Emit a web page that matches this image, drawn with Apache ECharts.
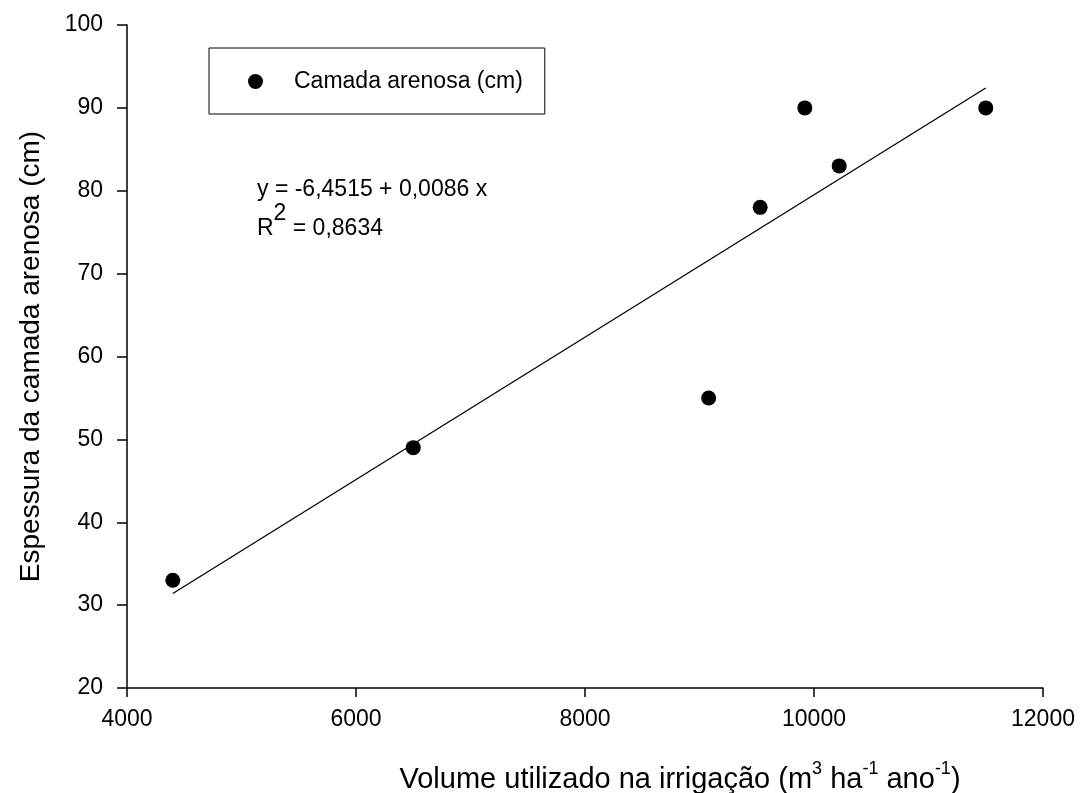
<!DOCTYPE html>
<html>
<head>
<meta charset="utf-8">
<script src="https://cdn.jsdelivr.net/npm/echarts@6/dist/echarts.min.js"></script>
<style>html,body{margin:0;padding:0;background:#fff;}#c{width:1083px;height:793px;}</style>
</head>
<body>
<div id="c"></div>
<script>
var volume = [4400, 6500, 9080, 9530, 9920, 10220, 11500];
var thickness = [33, 49, 55, 78, 90, 83, 90];
var fitLineX = [4400, 11500];
var fitLineY = [31.4, 92.4];
var xTicks = [4000, 12000, 2000];
var yTicks = [20, 100, 10];
var seriesName = 'Camada arenosa (cm)';

var FONT = 'Liberation Sans, Arial, sans-serif';
var chart = echarts.init(document.getElementById('c'), null, {renderer: 'canvas'});
chart.setOption({
  backgroundColor: '#fff',
  animation: false,
  textStyle: {fontFamily: FONT, color: '#000'},
  grid: {left: 127, right: 40, top: 25, bottom: 105, containLabel: false, outerBoundsMode: 'none'},
  legend: {
    data: [seriesName],
    left: 209, top: 48,
    orient: 'vertical',
    borderColor: '#000', borderWidth: 1,
    padding: [22, 22, 21, 39],
    itemWidth: 15, itemHeight: 15,
    icon: 'circle',
    textStyle: {fontFamily: FONT, fontSize: 23, color: '#000', padding: [0, 0, 0, 26]}
  },
  xAxis: {
    type: 'value',
    min: xTicks[0], max: xTicks[1], interval: xTicks[2],
    splitLine: {show: false},
    axisLine: {lineStyle: {color: '#000', width: 1.5}},
    axisTick: {inside: false, length: 9, lineStyle: {color: '#000', width: 1.5}},
    axisLabel: {fontFamily: FONT, fontSize: 23, color: '#000', margin: 20,
      formatter: function (v) { return String(v); }},
    name: '{n|Volume utilizado na irrigação (m}{s|3}{n| ha}{s|-1}{n| ano}{s|-1}{n|)}',
    nameLocation: 'middle',
    nameGap: 72,
    nameTextStyle: {
      padding: [0, 0, 0, 190],
      rich: {
        n: {fontFamily: FONT, fontSize: 29, color: '#000', verticalAlign: 'bottom', lineHeight: 34},
        s: {fontFamily: FONT, fontSize: 18, color: '#000', verticalAlign: 'top', lineHeight: 34, padding: [0, 0, 14, 0]}
      }
    }
  },
  yAxis: {
    type: 'value',
    min: yTicks[0], max: yTicks[1], interval: yTicks[2],
    splitLine: {show: false},
    axisLine: {show: true, lineStyle: {color: '#000', width: 1.5}},
    axisTick: {show: true, inside: false, length: 10, lineStyle: {color: '#000', width: 1.5}},
    axisLabel: {fontFamily: FONT, fontSize: 23, color: '#000', margin: 24},
    name: 'Espessura da camada arenosa (cm)',
    nameLocation: 'middle',
    nameGap: 82,
    nameTextStyle: {fontFamily: FONT, fontSize: 28, color: '#000', padding: [0, 0, 0, 0]}
  },
  graphic: [
    {
      type: 'text', left: 257, top: 178,
      style: {
        text: 'y = -6,4515 + 0,0086 x',
        font: '23px ' + FONT, fill: '#000'
      }
    },
    {
      type: 'text', left: 257, top: 202,
      style: {
        text: '{n|R}{s|2}{n| = 0,8634}',
        fill: '#000',
        rich: {
          n: {fontFamily: FONT, fontSize: 23, fill: '#000', color: '#000', verticalAlign: 'bottom', lineHeight: 38},
          s: {fontFamily: FONT, fontSize: 23, fill: '#000', color: '#000', verticalAlign: 'top', lineHeight: 38}
        }
      }
    }
  ],
  series: [
    {
      name: seriesName,
      type: 'scatter',
      data: volume.map(function (v, i) { return [v, thickness[i]]; }),
      symbol: 'circle',
      symbolSize: 15,
      itemStyle: {color: '#000', opacity: 1},
      z: 3
    },
    {
      name: 'fit',
      type: 'line',
      data: fitLineX.map(function (v, i) { return [v, fitLineY[i]]; }),
      showSymbol: false,
      symbol: 'none',
      lineStyle: {color: '#000', width: 1.3},
      z: 2
    }
  ]
});
</script>
</body>
</html>
